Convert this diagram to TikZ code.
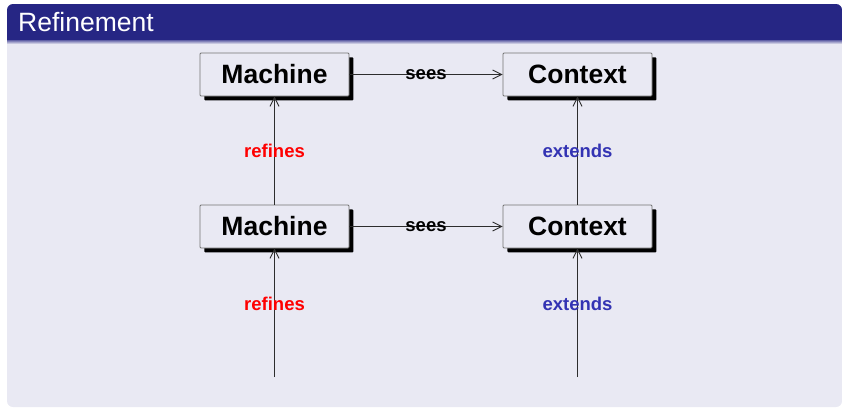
\documentclass[tikz,border=0pt]{standalone}
\usepackage{fontspec}
\setmainfont{Liberation Sans}
\usetikzlibrary{arrows.meta,shadows}

\definecolor{headblue}{RGB}{38,38,132}
\definecolor{bodylav}{RGB}{233,233,243}
\definecolor{extblue}{RGB}{51,51,179}
\definecolor{refred}{RGB}{255,0,0}
\definecolor{edgegray}{RGB}{45,45,45}

\tikzset{
  component/.style={draw=black!55, fill=bodylav, line width=0.9pt,
    rounded corners=1pt, minimum width=149pt, minimum height=43pt,
    inner sep=0pt, font=\fontsize{26.5}{31}\selectfont\bfseries,
    drop shadow={shadow xshift=4.4pt, shadow yshift=-4.4pt,
                 fill=black, opacity=1}},
  link/.style={draw=edgegray, line width=0.9pt,
    -{Straight Barb[length=9pt,width=9pt,line width=0.9pt]}},
  relname/.style={font=\fontsize{18.5}{22}\selectfont\bfseries, inner sep=0pt},
  seesname/.style={relname, text=black},
  refname/.style={relname, text=refred},
  extname/.style={relname, text=extblue},
}

\begin{document}
\begin{tikzpicture}[x=1pt, y=-1pt]
  \useasboundingbox (0,0) rectangle (842,408);

  % block frame: body, header band and its soft lower edge
  \fill[bodylav, rounded corners=6pt] (7,4) rectangle (842,407);
  \begin{scope}
    \clip[rounded corners=6pt] (7,4) rectangle (842,407);
    \fill[headblue] (7,0) rectangle (842,40);
    \shade[top color=headblue!70!bodylav, bottom color=bodylav] (7,40) rectangle (842,44);
  \end{scope}
  \node[anchor=base west, text=white, inner sep=0pt,
        font=\fontsize{26.5}{31}\selectfont] (title) at (18,31.5) {Refinement};

  % components
  \node[component] (m2) at (274.5,74.5) {Machine};
  \node[component] (c2) at (577.5,74.5) {Context};
  \node[component] (m1) at (274.5,226.5) {Machine};
  \node[component] (c1) at (577.5,226.5) {Context};

  \coordinate (m0) at (274.5,377);
  \coordinate (c0) at (577.5,377);

  % relations
  \draw[link] (m2) -- node[seesname] {sees} (c2);
  \draw[link] (m1) -- node[seesname] {sees} (c1);

  \draw[link] (m1) -- node[refname] {refines} (m2);
  \draw[link] (c1) -- node[extname] {extends} (c2);

  \draw[link] (m0) -- node[refname, pos=0.57] {refines} (m1);
  \draw[link] (c0) -- node[extname, pos=0.57] {extends} (c1);
\end{tikzpicture}
\end{document}
